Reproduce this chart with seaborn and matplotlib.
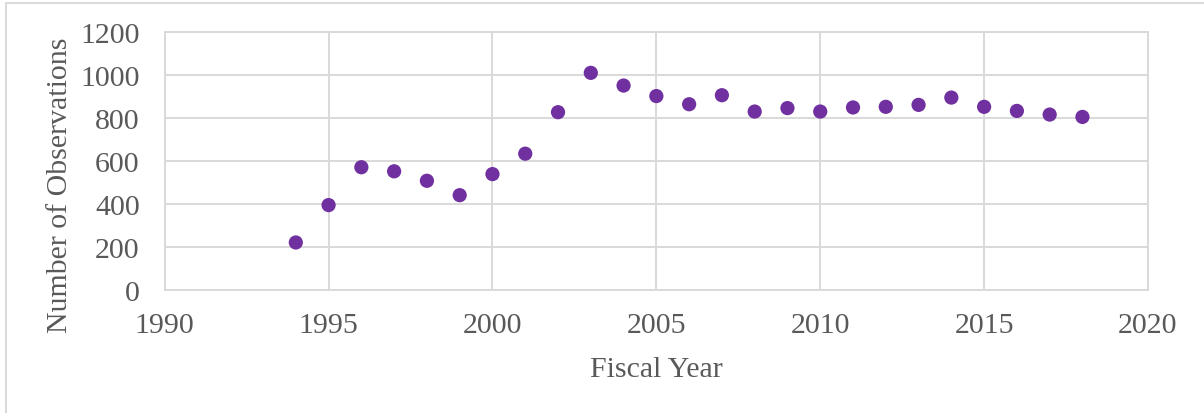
import matplotlib
matplotlib.use("Agg")
import matplotlib.pyplot as plt
import seaborn as sns
import pandas as pd
from matplotlib.lines import Line2D

years = [1994, 1995, 1996, 1997, 1998, 1999, 2000, 2001, 2002, 2003, 2004, 2005, 2006,
         2007, 2008, 2009, 2010, 2011, 2012, 2013, 2014, 2015, 2016, 2017, 2018]
observations = [221, 395, 571, 552, 508, 441, 539, 634, 827, 1010, 951, 902, 864,
                906, 830, 846, 830, 849, 852, 861, 895, 852, 833, 816, 805]
x_ticks = [1990, 1995, 2000, 2005, 2010, 2015, 2020]
y_ticks = [0, 200, 400, 600, 800, 1000, 1200]
x_label = "Fiscal Year"
y_label = "Number of Observations"

df = pd.DataFrame({"year": years, "obs": observations})

sns.set_theme(style="white")
plt.rcParams['font.family'] = ['Liberation Serif', 'DejaVu Serif']

W, H = 1204, 414
fig = plt.figure(figsize=(W / 100, H / 100), dpi=100)
ax = fig.add_axes([164.7 / W, 1 - 291 / H, (1148 - 164.7) / W, (291 - 33) / H])

sns.scatterplot(data=df, x="year", y="obs", ax=ax, color="#7030A0", s=105,
                edgecolor="none", linewidth=0, zorder=3)

ax.set_xlim(1990, 2020)
ax.set_ylim(0, 1200)
ax.set_xticks(x_ticks)
ax.set_yticks(y_ticks)
ax.grid(True, color="#d9d9d9", linewidth=1.4)
ax.set_axisbelow(True)
for sp in ax.spines.values():
    sp.set_color("#d9d9d9")
    sp.set_linewidth(1.4)
fs = 21.5
ax.tick_params(axis="both", length=0, labelsize=fs, colors="#595959")
ax.tick_params(axis="x", pad=16)
ax.tick_params(axis="y", pad=18)
ax.set_xlabel(x_label, fontsize=fs, color="#595959")
ax.set_ylabel(y_label, fontsize=fs, color="#595959")
ax.xaxis.set_label_coords(0.5, -0.255)
ax.yaxis.set_label_coords(-0.093, 0.411)

# outer chart frame (left and top edges visible)
fig.add_artist(Line2D([6 / W, 6 / W], [0, 1 - 4 / H], transform=fig.transFigure,
                      color="#d9d9d9", linewidth=1.4))
fig.add_artist(Line2D([6 / W, 1], [1 - 4 / H, 1 - 4 / H], transform=fig.transFigure,
                      color="#d9d9d9", linewidth=1.4))

fig.savefig("out.png", dpi=100, facecolor="white")
